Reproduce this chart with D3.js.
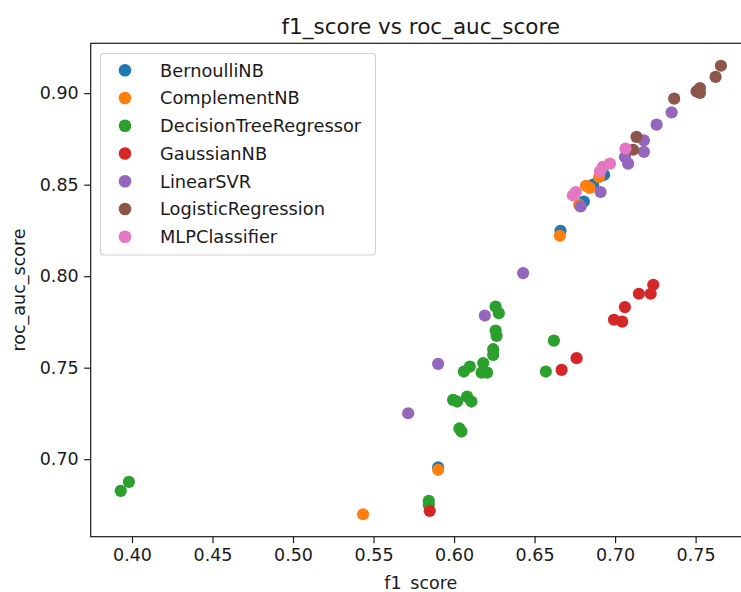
<!DOCTYPE html>
<html>
<head>
<meta charset="utf-8">
<script src="https://cdn.jsdelivr.net/npm/d3@7"></script>
<style>
  html, body { margin: 0; padding: 0; background: #fff; }
  svg { display: block; font-family: "DejaVu Sans", sans-serif; }
</style>
</head>
<body>
<svg id="chart" width="741" height="592"></svg>
<script>
// Cross-validation scores per model: f1_score (x) against roc_auc_score (y)
const models = ["BernoulliNB", "ComplementNB", "DecisionTreeRegressor", "GaussianNB",
                "LinearSVR", "LogisticRegression", "MLPClassifier"];
const colors = ["#1f77b4", "#ff7f0e", "#2ca02c", "#d62728", "#9467bd", "#8c564b", "#e377c2"];

const bernoulliF1  = [0.6932, 0.6864, 0.6806, 0.6661, 0.5901];
const bernoulliAuc = [0.8554, 0.8500, 0.8408, 0.8248, 0.6956];

const complementF1  = [0.6901, 0.6843, 0.6819, 0.6777, 0.6657, 0.5901, 0.5435];
const complementAuc = [0.8542, 0.8482, 0.8494, 0.8390, 0.8221, 0.6942, 0.6699];

const treeF1  = [0.3930, 0.3981, 0.5843, 0.5843, 0.6046, 0.6033, 0.5994, 0.6019, 0.6081, 0.6108,
                 0.6061, 0.6098, 0.6171, 0.6205, 0.6181, 0.6243, 0.6243, 0.6258, 0.6264, 0.6258,
                 0.6278, 0.6620, 0.6570];
const treeAuc = [0.6827, 0.6876, 0.6772, 0.6750, 0.7151, 0.7168, 0.7324, 0.7315, 0.7342, 0.7315,
                 0.7479, 0.7506, 0.7473, 0.7473, 0.7525, 0.7601, 0.7570, 0.7703, 0.7674, 0.7834,
                 0.7798, 0.7648, 0.7479];

const gaussianF1  = [0.7237, 0.7221, 0.7148, 0.7061, 0.6993, 0.7044, 0.6761, 0.6668, 0.5849];
const gaussianAuc = [0.7953, 0.7904, 0.7904, 0.7831, 0.7762, 0.7752, 0.7552, 0.7488, 0.6717];

const svrF1  = [0.7351, 0.7258, 0.7179, 0.7179, 0.7061, 0.7081, 0.6910, 0.6786, 0.6429, 0.6191,
                0.5901, 0.5715];
const svrAuc = [0.8895, 0.8828, 0.8742, 0.8679, 0.8651, 0.8615, 0.8460, 0.8381, 0.8017, 0.7785,
                0.7521, 0.7251];

const logisticF1  = [0.7657, 0.7624, 0.7527, 0.7506, 0.7527, 0.7367, 0.7133, 0.7112];
const logisticAuc = [0.9150, 0.9089, 0.9028, 0.9010, 0.9001, 0.8970, 0.8761, 0.8691];

const mlpF1  = [0.7065, 0.6968, 0.6924, 0.6906, 0.6756, 0.6738];
const mlpAuc = [0.8697, 0.8615, 0.8598, 0.8572, 0.8460, 0.8442];

const xTicks = [0.40, 0.45, 0.50, 0.55, 0.60, 0.65, 0.70, 0.75];
const yTicks = [0.70, 0.75, 0.80, 0.85, 0.90];

const seriesF1  = [bernoulliF1, complementF1, treeF1, gaussianF1, svrF1, logisticF1, mlpF1];
const seriesAuc = [bernoulliAuc, complementAuc, treeAuc, gaussianAuc, svrAuc, logisticAuc, mlpAuc];

const series = models.map((name, i) => ({
  name, color: colors[i],
  points: seriesF1[i].map((f, j) => ({ f1: f, auc: seriesAuc[i][j] }))
}));

// Plot area
const plot = { left: 90.7, right: 750.9, top: 43.3, bottom: 536.7 };

// Domains padded by 5% like the usual autoscale
function padded(values) {
  const [lo, hi] = d3.extent(values);
  const m = (hi - lo) * 0.05;
  return [lo - m, hi + m];
}
const allF1 = seriesF1.flat(), allAuc = seriesAuc.flat();

const x = d3.scaleLinear().domain(padded(allF1)).range([plot.left, plot.right]);
const y = d3.scaleLinear().domain(padded(allAuc)).range([plot.bottom, plot.top]);

const svg = d3.select("#chart");
svg.append("rect").attr("width", 741).attr("height", 592).attr("fill", "#fff");

const ink = "#1a1a1a";
const tickLen = 6.5, tickFont = 17.5;

// Points, one layer per model in order
const dots = svg.append("g");
series.forEach(s => {
  dots.append("g").selectAll("circle").data(s.points).join("circle")
    .attr("cx", d => x(d.f1))
    .attr("cy", d => y(d.auc))
    .attr("r", 6.1)
    .attr("fill", s.color);
});

// Axes
const xAxis = svg.append("g")
  .attr("transform", `translate(0,${plot.bottom})`)
  .call(d3.axisBottom(x).tickValues(xTicks).tickFormat(d3.format(".2f"))
        .tickSizeInner(tickLen).tickSizeOuter(0).tickPadding(5));
const yAxis = svg.append("g")
  .attr("transform", `translate(${plot.left},0)`)
  .call(d3.axisLeft(y).tickValues(yTicks).tickFormat(d3.format(".2f"))
        .tickSizeInner(tickLen).tickSizeOuter(0).tickPadding(5.5));

[xAxis, yAxis].forEach(g => {
  g.select(".domain").remove();
  g.selectAll(".tick line").attr("stroke", ink).attr("stroke-width", 1.2);
  g.selectAll(".tick text").attr("fill", ink)
    .style("font-family", "DejaVu Sans").style("font-size", tickFont + "px");
});

// Frame
svg.append("rect")
  .attr("x", plot.left).attr("y", plot.top)
  .attr("width", plot.right - plot.left).attr("height", plot.bottom - plot.top)
  .attr("fill", "none").attr("stroke", ink).attr("stroke-width", 1.2);

// Title and axis labels
svg.append("text")
  .attr("x", (plot.left + plot.right) / 2).attr("y", 33.5)
  .attr("text-anchor", "middle").attr("fill", ink)
  .style("font-size", "21.5px")
  .text("f1_score vs roc_auc_score");

svg.append("text")
  .attr("x", (plot.left + plot.right) / 2).attr("y", 588.5)
  .attr("text-anchor", "middle").attr("fill", ink)
  .style("font-size", tickFont + "px")
  .text("f1_score");

svg.append("text")
  .attr("transform", `translate(24.5,${(plot.top + plot.bottom) / 2}) rotate(-90)`)
  .attr("text-anchor", "middle").attr("fill", ink)
  .style("font-size", tickFont + "px")
  .text("roc_auc_score");

// Legend
const legend = svg.append("g");
legend.append("rect")
  .attr("x", 100.5).attr("y", 53.5).attr("width", 275).attr("height", 201.5)
  .attr("rx", 3.5).attr("ry", 3.5)
  .attr("fill", "#fff").attr("fill-opacity", 0.8)
  .attr("stroke", "#d0d0d0").attr("stroke-width", 1.1);

const rowY = d3.scaleLinear().domain([0, models.length - 1]).range([70.2, 236.8]);
const rows = legend.selectAll("g.row").data(series).join("g")
  .attr("class", "row")
  .attr("transform", (d, i) => `translate(0,${rowY(i)})`);
rows.append("circle").attr("cx", 125).attr("cy", 0).attr("r", 6.3).attr("fill", d => d.color);
rows.append("text").attr("x", 160).attr("y", 6.4).attr("fill", ink)
  .style("font-size", "17.8px")
  .text(d => d.name);
</script>
</body>
</html>
